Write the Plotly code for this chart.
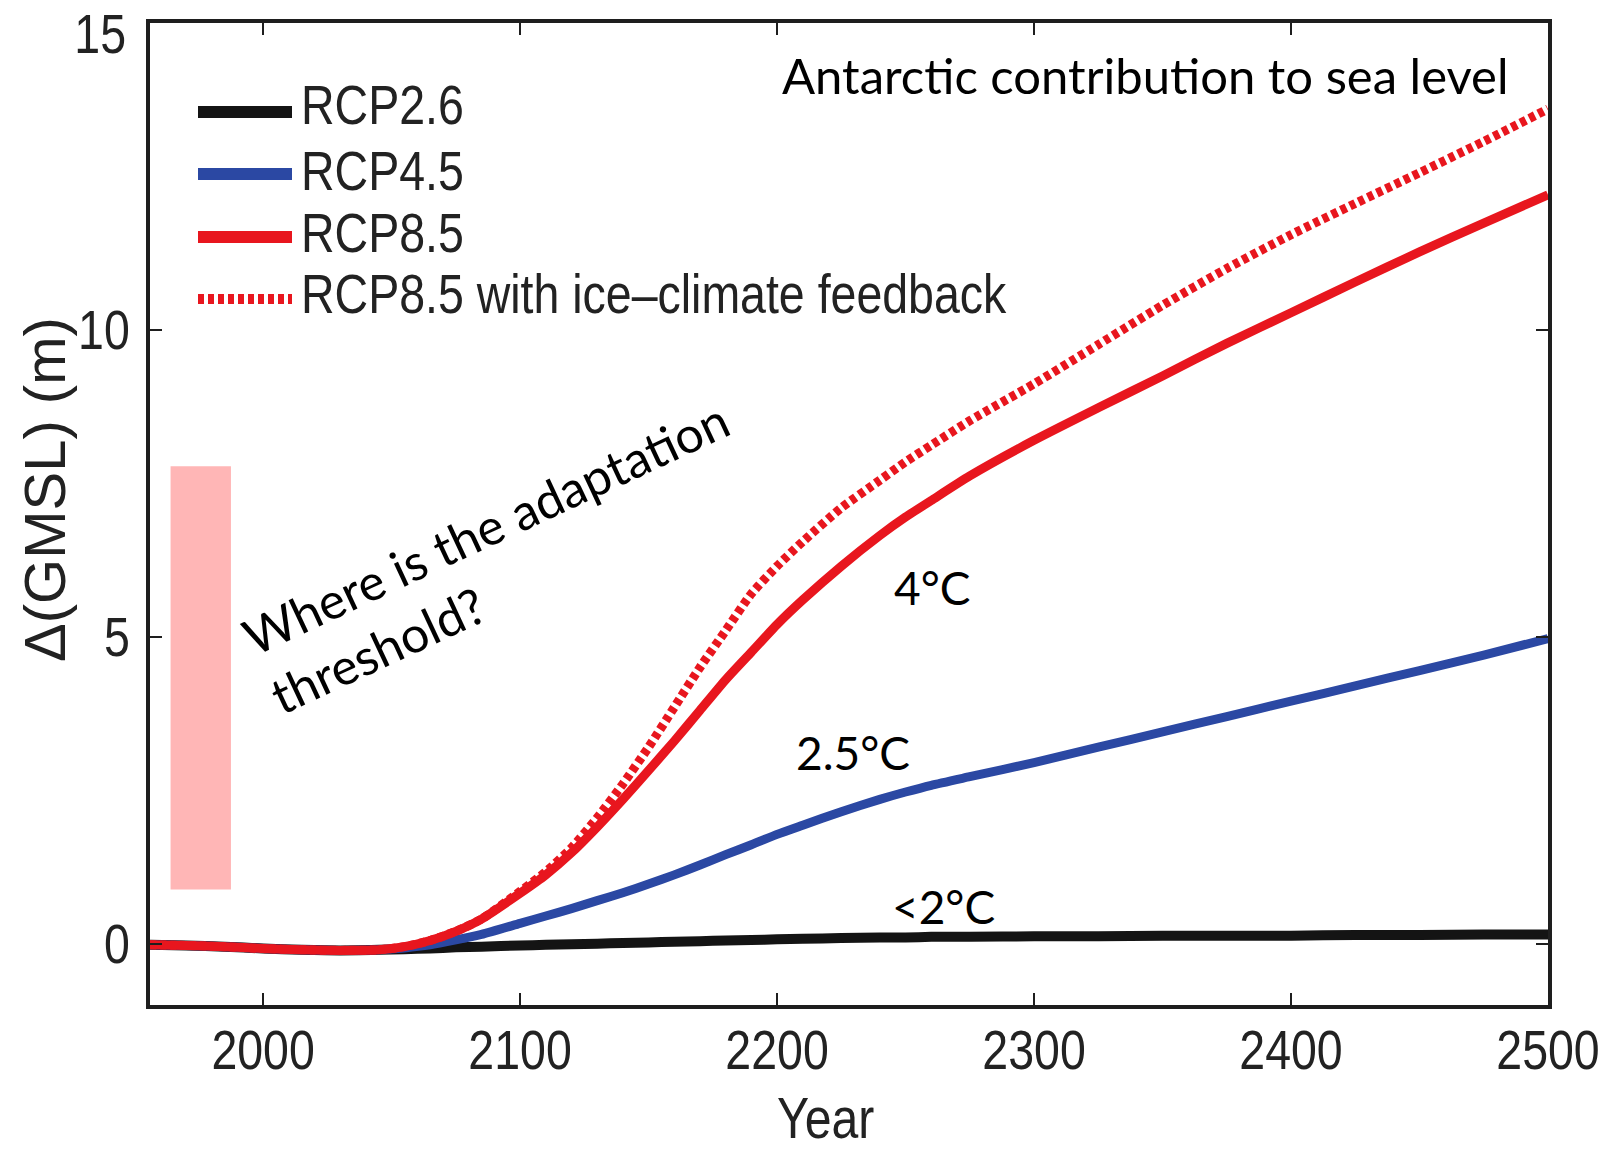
import plotly.graph_objects as go

# ---------------- data ----------------
years = [1956, 1970, 1985, 2000, 2015, 2030, 2045, 2055, 2065, 2075, 2085,
         2100, 2110, 2120, 2130, 2140, 2150, 2160, 2170, 2180, 2190, 2200,
         2210, 2225, 2240, 2250, 2260, 2275, 2300, 2325, 2350, 2375, 2400,
         2425, 2450, 2475, 2500]

rcp26 = [-0.02, -0.03, -0.05, -0.08, -0.10, -0.11, -0.10, -0.09, -0.08, -0.06, -0.05,
         -0.03, -0.02, -0.01, 0.00, 0.01, 0.02, 0.03, 0.04, 0.05, 0.06, 0.07,
         0.08, 0.09, 0.10, 0.10, 0.11, 0.11, 0.12, 0.12, 0.13, 0.13, 0.13,
         0.14, 0.14, 0.15, 0.15]

rcp45 = [-0.02, -0.03, -0.05, -0.08, -0.10, -0.11, -0.10, -0.07, -0.02, 0.06, 0.15,
         0.33, 0.45, 0.57, 0.70, 0.83, 0.97, 1.12, 1.28, 1.45, 1.61, 1.78,
         1.93, 2.15, 2.35, 2.47, 2.58, 2.72, 2.95, 3.20, 3.45, 3.70, 3.95,
         4.20, 4.45, 4.70, 4.97]

rcp85 = [-0.02, -0.03, -0.05, -0.08, -0.10, -0.11, -0.10, -0.05, 0.05, 0.20, 0.40,
         0.82, 1.12, 1.48, 1.90, 2.35, 2.82, 3.30, 3.80, 4.30, 4.75, 5.20,
         5.60, 6.15, 6.65, 6.95, 7.22, 7.62, 8.20, 8.73, 9.25, 9.78, 10.28,
         10.78, 11.27, 11.74, 12.20]

rcp85_fb = [-0.02, -0.03, -0.05, -0.08, -0.10, -0.11, -0.10, -0.05, 0.05, 0.20, 0.40,
            0.85, 1.17, 1.56, 2.05, 2.60, 3.20, 3.85, 4.50, 5.10, 5.70, 6.15,
            6.55, 7.10, 7.55, 7.85, 8.12, 8.52, 9.12, 9.76, 10.40, 11.00, 11.55,
            12.06, 12.56, 13.07, 13.60]

series_names = ["RCP2.6", "RCP4.5", "RCP8.5", "RCP8.5 with ice\u2013climate feedback"]
x_ticks = [2000, 2100, 2200, 2300, 2400, 2500]
y_ticks = [0, 5, 10, 15]
y_tick_text = ["0", "5", "10", ""]   # "15" is drawn as an annotation just below the corner
top_label = "15"
x_range = [1956, 2500]
y_range = [-1, 15]

# adaptation threshold band (years, metres)
band_x = [1964, 1987.5]
band_y = [0.88, 7.78]

# ---------------- style ----------------
BLACK = "#141414"
BLUE = "#2b48a3"
RED = "#e8161e"
PINK = "#ffb6b6"
AXIS = "#1e1e1e"
# "Liberation Sans Narrow" is not installed: text in these families falls back to
# Liberation Sans and is condensed horizontally in the browser (see post_script).
NARROW = "Liberation Sans Narrow, Liberation Sans, Arial, sans-serif"
NARROW_LEFT = "Liberation Sans Narrow, Arial Narrow, Liberation Sans, Arial, sans-serif"
CAL = "Lato, Calibri, Open Sans, sans-serif"
NSIZE = 56

W, H = 1615, 1156
ML, MR, MT, MB = 150, 67, 23, 151
PW, PH = W - ML - MR, H - MT - MB


def px(xp):
    return (xp - ML) / PW


def py(yp):
    return 1 - (yp - MT) / PH


fig = go.Figure()

fig.add_trace(go.Scatter(x=years, y=rcp26, name=series_names[0], mode="lines",
                         line=dict(color=BLACK, width=10, shape="spline", smoothing=0.6)))
fig.add_trace(go.Scatter(x=years, y=rcp45, name=series_names[1], mode="lines",
                         line=dict(color=BLUE, width=9, shape="spline", smoothing=0.6)))
fig.add_trace(go.Scatter(x=years, y=rcp85_fb, name=series_names[3], mode="lines",
                         line=dict(color=RED, width=9, dash="6px,4px", shape="spline", smoothing=0.6)))
fig.add_trace(go.Scatter(x=years, y=rcp85, name=series_names[2], mode="lines",
                         line=dict(color=RED, width=9, shape="spline", smoothing=0.6)))

shapes = [dict(type="rect", xref="x", yref="y", x0=band_x[0], x1=band_x[1],
               y0=band_y[0], y1=band_y[1], fillcolor=PINK, line=dict(width=0),
               layer="below")]

# manual legend
leg_colors = [BLACK, BLUE, RED, RED]
leg_dash = ["solid", "solid", "solid", "6px,4px"]
leg_line_y = [112, 174, 237, 299]
leg_text_y = [104, 170, 232, 293]
annotations = []
for i in range(4):
    shapes.append(dict(type="line", xref="paper", yref="paper",
                       x0=px(198), x1=px(292), y0=py(leg_line_y[i]), y1=py(leg_line_y[i]),
                       line=dict(color=leg_colors[i], width=12 if i < 3 else 10,
                                 dash=leg_dash[i])))
    annotations.append(dict(xref="paper", yref="paper", x=px(299), y=py(leg_text_y[i]),
                            text=series_names[i], showarrow=False, xanchor="left",
                            yanchor="middle", font=dict(family=NARROW_LEFT, size=NSIZE, color="#222")))

annotations += [
    dict(xref="paper", yref="paper", x=px(1511), y=py(75), text="Antarctic contribution to sea level",
         showarrow=False, xanchor="right", yanchor="middle", font=dict(family=CAL, size=49, color="#000")),
    dict(xref="paper", yref="paper", x=px(892), y=py(587), text="4°C",
         showarrow=False, xanchor="left", yanchor="middle", font=dict(family=CAL, size=46, color="#000")),
    dict(xref="paper", yref="paper", x=px(794), y=py(752), text="2.5°C",
         showarrow=False, xanchor="left", yanchor="middle", font=dict(family=CAL, size=46, color="#000")),
    dict(xref="paper", yref="paper", x=px(890), y=py(906), text="<2°C",
         showarrow=False, xanchor="left", yanchor="middle", font=dict(family=CAL, size=46, color="#000")),
    dict(xref="paper", yref="paper", x=px(499), y=py(557),
         text="Where is the adaptation<br>threshold?", align="left", textangle=-25,
         showarrow=False, xanchor="center", yanchor="middle",
         font=dict(family=CAL, size=50, color="#000")),
    dict(xref="paper", yref="paper", x=px(44), y=py(490), text="\u0394(GMSL) (m)", textangle=-90,
         showarrow=False, xanchor="center", yanchor="middle",
         font=dict(family="Liberation Sans, Arial, sans-serif", size=58, color="#222")),
    dict(xref="paper", yref="paper", x=px(825), y=py(1117), text="Year",
         showarrow=False, xanchor="center", yanchor="middle",
         font=dict(family=NARROW, size=NSIZE + 2, color="#222")),
    dict(xref="paper", yref="paper", x=px(133), y=py(0), text=top_label,
         showarrow=False, xanchor="right", yanchor="top",
         font=dict(family=NARROW, size=NSIZE, color="#222")),
]

fig.update_layout(
    width=W, height=H,
    margin=dict(l=ML, r=MR, t=MT, b=MB, pad=0, autoexpand=False),
    paper_bgcolor="white", plot_bgcolor="white",
    showlegend=False,
    shapes=shapes, annotations=annotations,
)

axis_common = dict(showline=True, linewidth=4, linecolor=AXIS, mirror="ticks",
                   ticks="inside", ticklen=12, tickwidth=2, tickcolor=AXIS,
                   showgrid=False, zeroline=False, automargin=False,
                   ticklabeloverflow="allow",
                   tickfont=dict(family=NARROW, size=NSIZE, color="#222"))

fig.update_xaxes(range=x_range, tickvals=x_ticks, ticklabelstandoff=-7, **axis_common)
fig.update_yaxes(range=y_range, tickvals=y_ticks, ticktext=y_tick_text,
                 ticklabelstandoff=5, **axis_common)

# condense the "narrow" texts horizontally (real SVG text, squeezed with textLength)
post_script = """
var gd = document.getElementById('{plot_id}');
var K = 0.83;
gd.querySelectorAll('text').forEach(function(t){
  var ff = t.style.fontFamily || '';
  if (ff.indexOf('Liberation Sans Narrow') < 0 || t.getAttribute('data-sq')) return;
  var L = t.getComputedTextLength();
  if (!L) return;
  t.setAttribute('textLength', (L * K).toFixed(2));
  t.setAttribute('lengthAdjust', 'spacingAndGlyphs');
  t.setAttribute('data-sq', '1');
  if (ff.indexOf('Arial Narrow') >= 0 && t.getAttribute('text-anchor') === 'middle') {
    var x = parseFloat(t.getAttribute('x') || '0');
    t.setAttribute('text-anchor', 'start');
    t.setAttribute('x', (x - L / 2).toFixed(2));
  }
});
"""

fig.write_html("out.html", post_script=post_script)
